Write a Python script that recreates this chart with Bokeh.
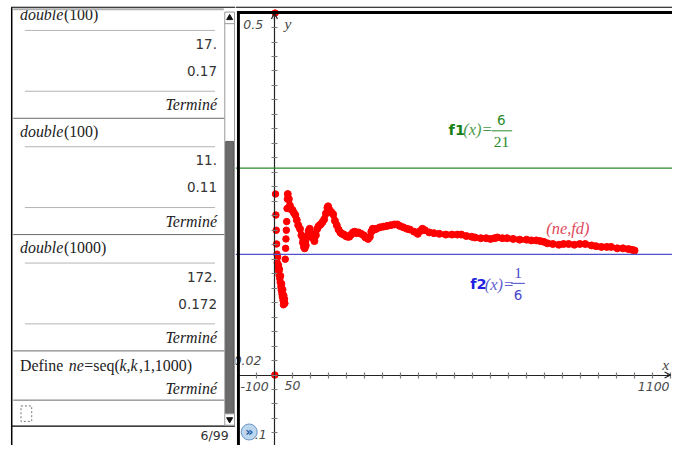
from bokeh.plotting import figure
from bokeh.layouts import row
from bokeh.models import Range1d, LinearAxis, FixedTicker, Span, BoxAnnotation, Arrow, OpenHead
from bokeh.core.properties import value
from bokeh.embed import file_html
from bokeh.resources import INLINE

# ---------------- data : the sequence (ne, fd) ----------------
ne_early = list(range(1, 37))
fd_early = [0.0, 0.5, 0.25, 0.221, 0.2, 0.181, 0.167,
            0.155, 0.163, 0.148, 0.152, 0.143, 0.138, 0.146, 0.133, 0.128, 0.137,
            0.122, 0.117, 0.126, 0.112, 0.108, 0.118, 0.103, 0.097, 0.11, 0.1, 0.105, 0.099,
            0.16, 0.175, 0.188, 0.2, 0.212, 0.23, 0.243]

ne_curve = [37, 40, 43, 46, 50, 54, 58, 62, 66, 71,
            75, 79, 82, 84, 87, 91, 95, 98, 103, 107,
            111, 115, 119, 123, 128, 133, 138, 143, 147, 149,
            153, 158, 163, 168, 173, 178, 183, 188, 193, 198,
            203, 208, 213, 218, 223, 228, 233, 241, 248, 253,
            260, 265, 269, 273, 278, 283, 293, 303, 313, 323,
            333, 341, 348, 358, 368, 376, 388, 398, 405, 411,
            418, 430, 443, 458, 476, 493, 508, 519, 533, 548,
            557, 573, 588, 600, 611, 619, 633, 646, 663, 681,
            700, 713, 727, 738, 748, 758, 773, 790, 803, 817,
            833, 848, 863, 881, 893, 908, 923, 935, 952, 968,
            983, 993, 1000]
fd_curve = [0.25, 0.243, 0.234, 0.229, 0.228, 0.224, 0.221, 0.214, 0.207, 0.202,
            0.193, 0.183, 0.177, 0.175, 0.179, 0.191, 0.199, 0.202, 0.195, 0.189,
            0.185, 0.193, 0.202, 0.206, 0.208, 0.211, 0.215, 0.223, 0.231, 0.233,
            0.228, 0.225, 0.222, 0.213, 0.207, 0.201, 0.197, 0.195, 0.194, 0.192,
            0.191, 0.191, 0.194, 0.197, 0.198, 0.196, 0.197, 0.195, 0.193, 0.19,
            0.188, 0.191, 0.198, 0.202, 0.201, 0.202, 0.204, 0.205, 0.206, 0.207,
            0.208, 0.208, 0.206, 0.204, 0.202, 0.201, 0.198, 0.195, 0.199, 0.202,
            0.2, 0.197, 0.196, 0.195, 0.194, 0.194, 0.194, 0.194, 0.192, 0.191,
            0.19, 0.189, 0.189, 0.188, 0.189, 0.19, 0.189, 0.189, 0.188, 0.187,
            0.187, 0.186, 0.186, 0.185, 0.184, 0.182, 0.181, 0.18, 0.181, 0.181,
            0.18, 0.181, 0.181, 0.179, 0.178, 0.177, 0.177, 0.177, 0.175, 0.175,
            0.174, 0.173, 0.172]

F1_NUM, F1_DEN = 6, 21
F2_NUM, F2_DEN = 1, 6

# graph window
XMIN, XMAX, XSCL = -100, 1100, 50
YMIN, YMAX, YSCL = -0.1, 0.5, 0.02

# calculator history
hist_func = ["double", "double", "double"]
hist_args = ["100", "100", "1000"]
hist_res1 = ["17.", "11.", "172."]
hist_res2 = ["0.17", "0.11", "0.172"]
done_txt = "Terminé"
define_parts = [("Define ", "normal"), ("ne", "italic"), ("=seq(", "normal"),
                ("k,k", "italic"), (",1,1000)", "normal")]
status_txt = "6/99"

# ---------------- layout ----------------
W, H = 672, 445
RW, RH = 688, 461
SX, SY = W / RW, H / RH
SPLIT = 241                      # reference px where the graph panel starts
LW = round(SPLIT * SX)
GW = W - LW
SERIF = "Liberation Serif"
SANS = "DejaVu Sans"

def fs(sz):
    return f"{sz * SY:.1f}px"

# ---------- left panel (calculator) ----------
L = figure(width=LW, height=H, x_range=Range1d(0, SPLIT), y_range=Range1d(RH, 0),
           x_axis_location=None, y_axis_location=None, toolbar_location=None,
           output_backend="svg", min_border=0, outline_line_color=None,
           background_fill_color="white", border_fill_color="white")
L.grid.grid_line_color = None

def ltext(x, y, s, font, size, style="normal", color="#222", align="left"):
    L.text(x=[x], y=[y], text=[s], text_font=value(font), text_font_size=fs(size),
           text_font_style=style, text_color=color, text_align=align, text_baseline="middle")

RIGHT_X = 222
for i in range(len(hist_func)):
    y0 = 15 + i * 120.5
    ltext(20, y0, hist_func[i], SERIF, 16.5, "italic")
    ltext(65, y0, "(" + hist_args[i] + ")", SERIF, 16.5)
    L.segment(x0=[25, 25], y0=[y0 + 16, y0 + 79], x1=[220, 220], y1=[y0 + 16, y0 + 79],
              line_color="#b4b4b4", line_width=1)
    ltext(RIGHT_X, y0 + 30, hist_res1[i], SANS, 14, color="#333", align="right")
    ltext(RIGHT_X, y0 + 58, hist_res2[i], SANS, 14, color="#333", align="right")
    ltext(RIGHT_X, y0 + 93, done_txt, SERIF, 16.5, "italic", align="right")
    L.segment(x0=[13], y0=[y0 + 107], x1=[230], y1=[y0 + 107], line_color="#6a6a6a", line_width=1)

yd = 378
xs = [20, 70, 86, 122, 142]
for (s, st), x in zip(define_parts, xs):
    ltext(x, yd, s, SERIF, 16.5, st)
ltext(RIGHT_X, yd + 24, done_txt, SERIF, 16.5, "italic", align="right")
L.segment(x0=[13], y0=[yd + 36], x1=[230], y1=[yd + 36], line_color="#6a6a6a", line_width=1)
L.quad(left=[21], right=[32], top=[420], bottom=[436], fill_color=None,
       line_color="#777", line_dash="2 2", line_width=1)

# status bar
L.segment(x0=[11], y0=[441], x1=[SPLIT], y1=[441], line_color="black", line_width=1.2)
ltext(234, 451, status_txt, SANS, 13, color="#333", align="right")

# scrollbar
L.quad(left=[230], right=[240], top=[12], bottom=[440], fill_color="white",
       line_color="#9a9a9a", line_width=1)
L.quad(left=[231], right=[239], top=[146], bottom=[428], fill_color="#6b6b6b",
       line_color="#5a5a5a", line_width=1)
L.segment(x0=[230, 230], y0=[24, 428], x1=[240, 240], y1=[24, 428], line_color="#9a9a9a")
L.scatter(x=[235], y=[18], marker="triangle", size=6, color="#111")
L.scatter(x=[235], y=[434], marker="inverted_triangle", size=6, color="#111")

# clip top, frame lines
L.quad(left=[0], right=[SPLIT], top=[0], bottom=[9.5], fill_color="white", line_color=None)
L.segment(x0=[13], y0=[9], x1=[229], y1=[9], line_color="#b0b0b0", line_width=2)
L.segment(x0=[11], y0=[7], x1=[SPLIT], y1=[7], line_color="black", line_width=1)
L.segment(x0=[11.5], y0=[7], x1=[11.5], y1=[RH], line_color="black", line_width=1.5)

# ---------- right panel (graph) ----------
RX0, RX1 = 244, 686      # reference px of XMIN / XMAX
RY0, RY1 = 13, 463       # reference px of YMAX / YMIN

def px2x(px):
    return XMIN + (px - RX0) * (XMAX - XMIN) / (RX1 - RX0)

def py2y(py):
    return YMAX - (py - RY0) * (YMAX - YMIN) / (RY1 - RY0)

G = figure(width=GW, height=H, x_range=Range1d(px2x(SPLIT), px2x(RW)),
           y_range=Range1d(py2y(RH), py2y(0)),
           x_axis_location=None, y_axis_location=None, toolbar_location=None,
           output_backend="svg", min_border=0, outline_line_color=None,
           background_fill_color="white", border_fill_color="white")
G.grid.grid_line_color = None

nx = int(round((XMAX - XMIN) / XSCL))
ny = int(round((YMAX - YMIN) / YSCL))
xt = [XMIN + i * XSCL for i in range(nx + 1)]
yt = [round(YMIN + i * YSCL, 4) for i in range(ny + 1)]
x_over = {t: "" for t in xt}
x_over[XSCL] = str(XSCL)
y_over = {t: "" for t in yt}
y_over[YSCL] = "0.02"

xax = LinearAxis(fixed_location=0, ticker=FixedTicker(ticks=xt), bounds=(XMIN, XMAX),
                 axis_line_color="#222", axis_line_width=1.2,
                 major_tick_line_color="#7a7a7a", major_tick_line_width=1.2,
                 major_tick_in=3, major_tick_out=3,
                 minor_tick_line_color=None, major_label_overrides=x_over,
                 major_label_standoff=3, major_label_text_font=SANS,
                 major_label_text_font_style="italic", major_label_text_font_size=fs(13),
                 major_label_text_color="#4a4a4a")
G.add_layout(xax, "below")
yax = LinearAxis(fixed_location=0, ticker=FixedTicker(ticks=yt), bounds=(YMIN, YMAX),
                 axis_line_color="#222", axis_line_width=1.2,
                 major_tick_line_color="#7a7a7a", major_tick_line_width=1.2,
                 major_tick_in=3, major_tick_out=3,
                 minor_tick_line_color=None, major_label_overrides=y_over,
                 major_label_standoff=10, major_label_text_font=SANS,
                 major_label_text_font_style="italic", major_label_text_font_size=fs(13),
                 major_label_text_color="#4a4a4a")
G.add_layout(yax, "left")

G.add_layout(Arrow(end=OpenHead(size=6, line_color="#222", line_width=1.2),
                   x_start=XMAX - XSCL / 5, y_start=0, x_end=XMAX, y_end=0,
                   line_color="#222", line_width=1.2))
G.add_layout(Arrow(end=OpenHead(size=6, line_color="#222", line_width=1.2),
                   x_start=0, y_start=YMAX - YSCL / 2, x_end=0, y_end=YMAX,
                   line_color="#222", line_width=1.2))

# function lines
G.add_layout(Span(location=F1_NUM / F1_DEN, dimension="width", line_color="#2a8a2a", line_width=1.2))
G.add_layout(Span(location=F2_NUM / F2_DEN, dimension="width", line_color="#5050c8", line_width=1.2))

# the sequence
G.line(x=ne_curve, y=fd_curve, line_color="#ff0000", line_width=5.5)
G.scatter(x=ne_curve, y=fd_curve, size=7, color="#ff0000")
G.scatter(x=ne_early, y=fd_early, size=6.5, color="#ff0000")

def gtext(px, py, s, font, size, style="normal", color="#4a4a4a", align="left"):
    G.text(x=[px2x(px)], y=[py2y(py)], text=[s], text_font=value(font), text_font_size=fs(size),
           text_font_style=style, text_color=color, text_align=align, text_baseline="middle")

# window labels
gtext(249, 25, f"{YMAX:g}", SANS, 13, "italic")
gtext(291, 24, "y", SERIF, 16, "italic", "#444")
gtext(246, 400, f"{XMIN:g}", SANS, 13, "italic")
gtext(RX1 - 1, 400, f"{XMAX:g}", SANS, 13, "italic", align="right")
gtext(681, 377, "x", SERIF, 16, "italic", "#444", align="center")
gtext(248, 450, f"{YMIN:g}", SANS, 13, "italic")

# f1 label
gtext(459, 134, "f1", SANS, 15, "bold", "#168016")
gtext(474, 134, "(x)=", SERIF, 17, "italic", "#4a9a4a")
gtext(513, 124, str(F1_NUM), SANS, 14, color="#2a8a2a", align="center")
gtext(513, 147, str(F1_DEN), SERIF, 16, color="#2a8a2a", align="center")
G.segment(x0=[px2x(503)], y0=[py2y(135)], x1=[px2x(524)], y1=[py2y(135)], line_color="#2a8a2a", line_width=1)

# f2 label
gtext(481, 294, "f2", SANS, 15, "bold", "#1f1fe0")
gtext(496, 294, "(x)=", SERIF, 17, "italic", "#6060d0")
gtext(530, 282, str(F2_NUM), SERIF, 16, color="#4848c8", align="center")
gtext(530, 305, str(F2_DEN), SANS, 14, color="#4848c8", align="center")
G.segment(x0=[px2x(523)], y0=[py2y(293)], x1=[px2x(537)], y1=[py2y(293)], line_color="#4848c8", line_width=1)

# sequence label
gtext(581, 236, "(ne,fd)", SERIF, 17, "italic", "#e0485a", align="center")

# small ">>" icon
G.scatter(x=[px2x(255)], y=[py2y(447)], size=16, marker="circle",
          fill_color="#bcd6ee", line_color="#6a96c4", line_width=1)
gtext(255, 446, "»", SANS, 13, "bold", "#1a5aa0", align="center")

# panel borders
G.add_layout(Span(location=py2y(7), dimension="width", line_color="black", line_width=1))
G.add_layout(BoxAnnotation(left=px2x(242.5), right=px2x(RW), top=py2y(11), bottom=py2y(14),
                           fill_color="black", fill_alpha=1, line_color=None))
G.add_layout(BoxAnnotation(left=px2x(242.5), right=px2x(245.5), top=py2y(11), bottom=py2y(RH),
                           fill_color="black", fill_alpha=1, line_color=None))

layout = row(L, G, spacing=0)
open("out.html", "w").write(file_html(layout, INLINE))
